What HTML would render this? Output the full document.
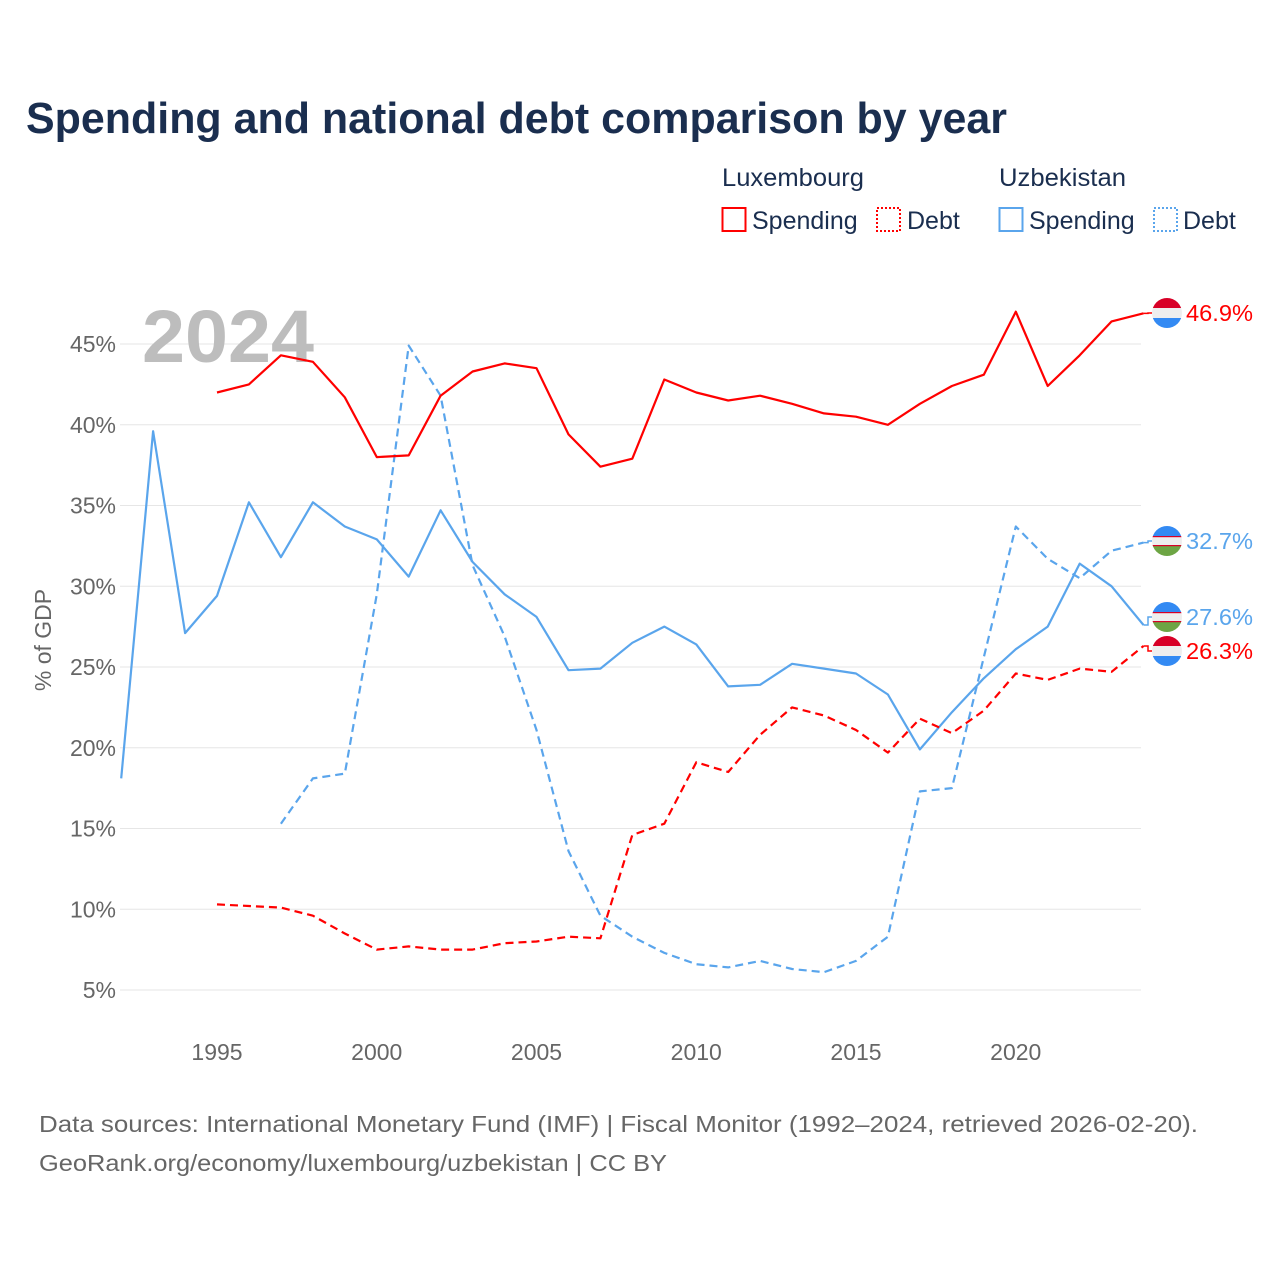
<!DOCTYPE html>
<html><head><meta charset="utf-8"><style>
body{margin:0;background:#fff;font-family:"Liberation Sans",sans-serif}
svg{display:block}
</style></head><body>
<svg width="1280" height="1280" viewBox="0 0 1280 1280">
<text x="26" y="133" font-size="44" font-weight="bold" fill="#1a2e4f" textLength="981" lengthAdjust="spacingAndGlyphs">Spending and national debt comparison by year</text>
<g font-size="25" fill="#1a2e4f">
<text x="722" y="186" textLength="142" lengthAdjust="spacingAndGlyphs">Luxembourg</text>
<text x="999" y="186" textLength="127" lengthAdjust="spacingAndGlyphs">Uzbekistan</text>
<rect x="722.5" y="208" width="23" height="23" fill="none" stroke="#ff0000" stroke-width="2"/>
<text x="752" y="229">Spending</text>
<rect x="877" y="208" width="23" height="23" fill="none" stroke="#ff0000" stroke-width="2" stroke-dasharray="2,2"/>
<text x="907" y="229">Debt</text>
<rect x="999.5" y="208" width="23" height="23" fill="none" stroke="#5aa5ec" stroke-width="2"/>
<text x="1029" y="229">Spending</text>
<rect x="1154" y="208" width="23" height="23" fill="none" stroke="#5aa5ec" stroke-width="2" stroke-dasharray="2,2"/>
<text x="1183" y="229">Debt</text>
</g>
<g id="grid"></g>
<text x="142" y="362" font-size="74" font-weight="bold" fill="#bdbdbd" textLength="172" lengthAdjust="spacingAndGlyphs">2024</text>
<text transform="translate(51,640) rotate(-90)" text-anchor="middle" font-size="23" fill="#666">% of GDP</text>
<g id="series"></g>
<g id="labels"></g>
<g font-size="23" fill="#666">
<text x="39" y="1132" textLength="1159" lengthAdjust="spacingAndGlyphs">Data sources: International Monetary Fund (IMF) | Fiscal Monitor (1992–2024, retrieved 2026-02-20).</text>
<text x="39" y="1171" textLength="628" lengthAdjust="spacingAndGlyphs">GeoRank.org/economy/luxembourg/uzbekistan | CC BY</text>
</g>
</svg>
<script>
const yTicks=[5,10,15,20,25,30,35,40,45];
const xTicks=[1995,2000,2005,2010,2015,2020];
const luxSpendYears=[1995,1996,1997,1998,1999,2000,2001,2002,2003,2004,2005,2006,2007,2008,2009,2010,2011,2012,2013,2014,2015,2016,2017,2018,2019,2020,2021,2022,2023,2024];
const luxSpending=[42.0,42.5,44.3,43.9,41.7,38.0,38.1,41.8,43.3,43.8,43.5,39.4,37.4,37.9,42.8,42.0,41.5,41.8,41.3,40.7,40.5,40.0,41.3,42.4,43.1,47.0,42.4,44.3,46.4,46.9];
const luxDebt=[10.3,10.2,10.1,9.6,8.5,7.5,7.7,7.5,7.5,7.9,8.0,8.3,8.2,14.6,15.3,19.1,18.5,20.8,22.5,22.0,21.1,19.7,21.8,20.9,22.3,24.6,24.2,24.9,24.7,26.3];
const uzbSpendYears=[1992,1993,1994,1995,1996,1997,1998,1999,2000,2001,2002,2003,2004,2005,2006,2007,2008,2009,2010,2011,2012,2013,2014,2015,2016,2017,2018,2019,2020,2021,2022,2023,2024];
const uzbSpending=[18.1,39.6,27.1,29.4,35.2,31.8,35.2,33.7,32.9,30.6,34.7,31.5,29.5,28.1,24.8,24.9,26.5,27.5,26.4,23.8,23.9,25.2,24.9,24.6,23.3,19.9,22.2,24.3,26.1,27.5,31.4,30.0,27.6];
const uzbDebtYears=[1997,1998,1999,2000,2001,2002,2003,2004,2005,2006,2007,2008,2009,2010,2011,2012,2013,2014,2015,2016,2017,2018,2019,2020,2021,2022,2023,2024];
const uzbDebt=[15.3,18.1,18.4,29.5,44.9,41.8,31.3,26.9,21.1,13.6,9.6,8.3,7.3,6.6,6.4,6.8,6.3,6.1,6.8,8.3,17.3,17.5,25.6,33.7,31.7,30.5,32.2,32.7];

const NS='http://www.w3.org/2000/svg';
const X=yr=>217+(yr-1995)*31.95;
const Y=v=>990-(v-5)*16.15;
function mk(tag,attrs,parent){const e=document.createElementNS(NS,tag);for(const k in attrs)e.setAttribute(k,attrs[k]);parent.appendChild(e);return e;}
const grid=document.getElementById('grid');
yTicks.forEach(t=>{
  const l=mk('line',{x1:120,x2:1141,y1:Y(t),y2:Y(t),stroke:'#e6e6e6','stroke-width':1},grid);
  
  
  const tx=mk('text',{x:116,y:Y(t)+8,'text-anchor':'end','font-size':23,fill:'#666'},grid);
  tx.textContent=t+'%';
  
  
});
xTicks.forEach(t=>{
  const tx=mk('text',{x:X(t),y:1060,'text-anchor':'middle','font-size':23,fill:'#666'},grid);
  tx.textContent=t;
  
  
});
const ser=document.getElementById('series');
function line(years,vals,color,dash,name){
  const d=years.map((y,i)=>(i?'L':'M')+X(y).toFixed(1)+','+Y(vals[i]).toFixed(1)).join('');
  const p=mk('path',{d:d,fill:'none',stroke:color,'stroke-width':2.2,'stroke-linejoin':'round'},ser);
  if(dash)p.setAttribute('stroke-dasharray','8,5');
  
  
}
line(uzbDebtYears,uzbDebt,'#5aa5ec',true,'uzbekistan-debt-line');
line(uzbSpendYears,uzbSpending,'#5aa5ec',false,'uzbekistan-spending-line');
line(luxSpendYears,luxDebt,'#ff0000',true,'luxembourg-debt-line');
line(luxSpendYears,luxSpending,'#ff0000',false,'luxembourg-spending-line');

const lab=document.getElementById('labels');
function flag(cy,type,name){
  const g=mk('g',{},lab);
  
  
  const id='c'+Math.round(cy);
  const cp=mk('clipPath',{id:id},g);mk('circle',{cx:1167,cy:cy,r:15},cp);
  const gg=mk('g',{'clip-path':'url(#'+id+')'},g);
  if(type==='lux'){
    mk('rect',{x:1152,y:cy-15,width:30,height:10,fill:'#d80027'},gg);
    mk('rect',{x:1152,y:cy-5,width:30,height:10,fill:'#eee'},gg);
    mk('rect',{x:1152,y:cy+5,width:30,height:10,fill:'#338af3'},gg);
  }else{
    mk('rect',{x:1152,y:cy-15,width:30,height:10,fill:'#338af3'},gg);
    mk('rect',{x:1152,y:cy-5,width:30,height:10,fill:'#eee'},gg);
    mk('rect',{x:1152,y:cy+5,width:30,height:10,fill:'#6da544'},gg);
    mk('rect',{x:1152,y:cy-5,width:30,height:1.2,fill:'#d80027'},gg);
    mk('rect',{x:1152,y:cy+4,width:30,height:1.2,fill:'#d80027'},gg);
  }
}
const endLabels=[[46.9,313,'lux','#ff0000','luxembourg-spending'],[32.7,541,'uzb','#5aa5ec','uzbekistan-debt'],[27.6,617,'uzb','#5aa5ec','uzbekistan-spending'],[26.3,651,'lux','#ff0000','luxembourg-debt']];
endLabels.forEach(e=>{
  const c=mk('path',{d:'M'+X(2024)+','+Y(e[0])+'H1148V'+e[1]+'H1152',fill:'none',stroke:e[3],'stroke-width':1.5},lab);
  
  
  flag(e[1],e[2],e[4]+'-flag');
  const t=mk('text',{x:1186,y:e[1]+8,'font-size':23,fill:e[3],textLength:67,lengthAdjust:'spacingAndGlyphs'},lab);
  t.textContent=e[0].toFixed(1)+'%';
  
  
});
</script>
</body></html>
